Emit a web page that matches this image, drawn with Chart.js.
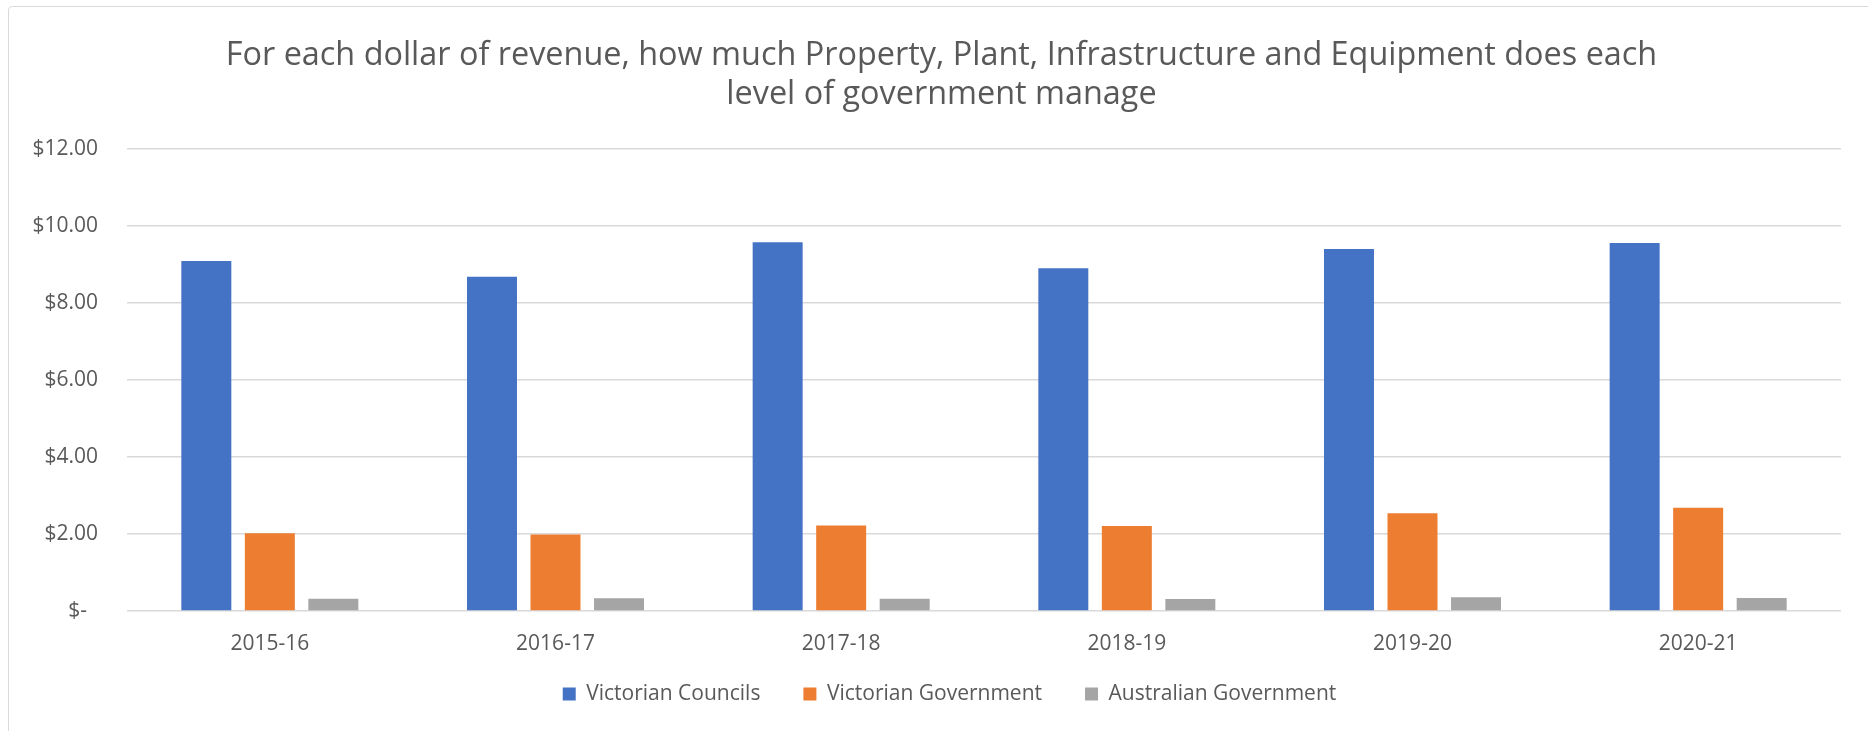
<!DOCTYPE html>
<html>
<head>
<meta charset="utf-8">
<title>PPIE per dollar of revenue</title>
<script src="https://cdn.jsdelivr.net/npm/chart.js@4.4.1/dist/chart.umd.min.js"></script>
<style>
    html, body { margin: 0; padding: 0; background: #fff; overflow: hidden; }
    #wrap { position: relative; width: 1868px; height: 731px; }
    #frame {
        position: absolute; left: 8px; top: 6px; width: 1900px; height: 800px;
        border: 1px solid #d9d9d9; border-radius: 4px; box-sizing: border-box;
        pointer-events: none;
    }
    canvas { position: absolute; left: 0; top: 0; }
</style>
</head>
<body>
<div id="wrap">
    <canvas id="chart" width="1868" height="731"></canvas>
    <div id="frame"></div>
</div>
<script>
/*  Data  */
const years = ["2015-16", "2016-17", "2017-18", "2018-19", "2019-20", "2020-21"];
const councils = [9.09, 8.68, 9.58, 8.90, 9.40, 9.56];
const vicGov = [2.02, 1.99, 2.22, 2.21, 2.54, 2.68];
const ausGov = [0.32, 0.33, 0.32, 0.31, 0.36, 0.34];

// tick labels, bottom to top ($0 ... $12), step $2
const yTickLabels = ["$-  ", "$2.00", "$4.00", "$6.00", "$8.00", "$10.00", "$12.00"];
const titleLines = [
    "For each dollar of revenue, how much Property, Plant, Infrastructure and Equipment does each",
    "level of government manage"
];

const textColor = "#595959";
const gridColor = "#d9d9d9";
const fontFamily = "'Open Sans', sans-serif";

function dataset(label, data, color) {
    return {
        label,
        data,
        backgroundColor: color,
        borderWidth: 0,
        categoryPercentage: 0.667,
        barPercentage: 0.787
    };
}

/*  legend padding sets both the gap between items and the space above them,
    so lift the legend box a bit to keep wide gaps without pushing it down.
    Title and legend are also nudged right to sit centred like the original  */
const boxNudge = {
    id: "boxNudge",
    afterLayout(chart) {
        const lg = chart.legend;
        lg.top -= 13.5;
        lg.bottom -= 13.5;
        lg.left += 14;
        lg.right += 14;
        const tb = chart.titleBlock;
        tb.left += 6;
        tb.right += 6;
    }
};

new Chart(document.getElementById("chart"), {
    type: "bar",
    data: {
        labels: years,
        datasets: [
            dataset("Victorian Councils", councils, "#4472c4"),
            dataset("Victorian Government", vicGov, "#ed7d31"),
            dataset("Australian Government", ausGov, "#a5a5a5")
        ]
    },
    options: {
        responsive: false,
        devicePixelRatio: 1,
        animation: false,
        layout: {
            padding: { left: 30, right: 27, top: 0, bottom: 3 }
        },
        scales: {
            x: {
                grid: { display: false, drawTicks: false },
                border: { display: false },
                ticks: {
                    color: textColor,
                    font: { family: fontFamily, size: 21, lineHeight: 1 },
                    padding: 22.5
                },
                afterFit(scale) { scale.height = 43; }
            },
            y: {
                min: 0,
                max: 12,
                grid: {
                    color: gridColor,
                    lineWidth: 1.6,
                    drawTicks: false
                },
                border: { display: false },
                ticks: {
                    stepSize: 2,
                    color: textColor,
                    font: { family: fontFamily, size: 21 },
                    padding: 29,
                    callback: (value) => yTickLabels[Math.round(value / 2)]
                },
                afterFit(scale) { scale.width = 97; }
            }
        },
        plugins: {
            title: {
                display: true,
                text: titleLines,
                color: textColor,
                font: { family: fontFamily, size: 32.4, weight: "normal", lineHeight: "39px" },
                padding: { top: 36.5, bottom: 34.5 }
            },
            legend: {
                position: "bottom",
                labels: {
                    color: textColor,
                    font: { family: fontFamily, size: 21 },
                    boxWidth: 13,
                    boxHeight: 13,
                    padding: 43
                }
            },
            tooltip: { enabled: false }
        }
    },
    plugins: [boxNudge]
});
</script>
</body>
</html>
